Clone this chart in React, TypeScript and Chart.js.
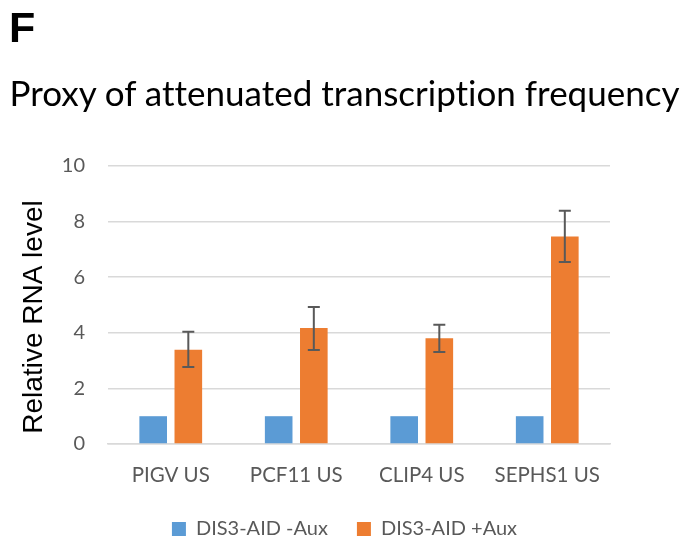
import React, { useEffect, useRef } from "react";
import { Chart, registerables } from "chart.js";

Chart.register(...registerables);

const categories = ["PIGV US", "PCF11 US", "CLIP4 US", "SEPHS1 US"];
const minusAux = [1, 1, 1, 1];
const plusAux = [3.39, 4.17, 3.8, 7.46];
const plusAuxErrLow = [2.77, 3.38, 3.31, 6.55];
const plusAuxErrHigh = [4.04, 4.93, 4.29, 8.39];
const yTicks = [0, 2, 4, 6, 8, 10];
const yTitle = "Relative RNA level";

const errorBarPlugin = {
  id: "errorBars",
  afterDatasetsDraw(chart: any) {
    const ctx = chart.ctx;
    const meta = chart.getDatasetMeta(1);
    const y = chart.scales.y;
    ctx.save();
    ctx.strokeStyle = "#595959";
    ctx.lineWidth = 2;
    meta.data.forEach((bar: any, i: number) => {
      const x = bar.x;
      const yl = y.getPixelForValue(plusAuxErrLow[i]);
      const yh = y.getPixelForValue(plusAuxErrHigh[i]);
      ctx.beginPath();
      ctx.moveTo(x, yl);
      ctx.lineTo(x, yh);
      ctx.moveTo(x - 6, yl);
      ctx.lineTo(x + 6, yl);
      ctx.moveTo(x - 6, yh);
      ctx.lineTo(x + 6, yh);
      ctx.stroke();
    });
    ctx.restore();
  },
};

const yTitlePlugin = {
  id: "yTitle",
  afterDraw(chart: any) {
    const ctx = chart.ctx;
    const a = chart.chartArea;
    ctx.save();
    ctx.translate(34, (a.top + a.bottom) / 2 + 12);
    ctx.rotate(-Math.PI / 2);
    ctx.font = '28px "Liberation Sans"';
    ctx.fillStyle = "#000";
    ctx.textAlign = "center";
    ctx.textBaseline = "middle";
    ctx.fillText(yTitle, 0, 0);
    ctx.restore();
  },
};

export default function App() {
  const ref = useRef<HTMLCanvasElement>(null);
  useEffect(() => {
    document.body.style.margin = "0";
    const chart = new Chart(ref.current!, {
      type: "bar",
      data: {
        labels: categories,
        datasets: [
          {
            label: "DIS3-AID -Aux",
            data: minusAux,
            backgroundColor: "#5B9BD5",
            categoryPercentage: 0.56,
            barPercentage: 0.786,
          },
          {
            label: "DIS3-AID +Aux",
            data: plusAux,
            backgroundColor: "#ED7D31",
            categoryPercentage: 0.56,
            barPercentage: 0.786,
          },
        ],
      },
      options: {
        animation: false,
        responsive: false,
        layout: { padding: { left: 0, right: 0, top: 166, bottom: -10 } },
        plugins: {
          title: { display: false },
          legend: {
            position: "bottom",
            labels: {
              color: "#595959",
              font: { family: "Lato", size: 20 },
              boxWidth: 14,
              boxHeight: 14,
              padding: 29,
            },
          },
          tooltip: { enabled: false },
        },
        scales: {
          x: {
            grid: { display: false, drawTicks: false },
            border: { color: "#d9d9d9", width: 1.5 },
            afterFit: (s: any) => {
              s.height = 46;
            },
            ticks: {
              color: "#595959",
              font: { family: "Lato", size: 20.5 },
              padding: 19,
            },
          },
          y: {
            min: 0,
            max: 10,
            afterBuildTicks: (s: any) => {
              s.ticks = yTicks.map((v) => ({ value: v }));
            },
            afterFit: (s: any) => {
              s.width = 108;
            },
            grid: { color: "#d9d9d9", lineWidth: 1.5, drawTicks: false },
            border: { display: false },
            ticks: {
              color: "#595959",
              font: { family: "Lato", size: 20 },
              padding: 23,
            },
            title: { display: false },
          },
          yRight: {
            type: "linear",
            position: "right",
            display: true,
            grid: { display: false, drawTicks: false },
            border: { display: false },
            ticks: { display: false },
            afterFit: (s: any) => {
              s.width = 79;
            },
          },
        },
      },
      plugins: [errorBarPlugin, yTitlePlugin],
    });
    return () => chart.destroy();
  }, []);
  return (
    <div style={{ position: "relative", width: 689, height: 539, background: "#fff", overflow: "hidden" }}>
      <canvas ref={ref} width={689} height={539} style={{ position: "absolute", left: 0, top: 0 }} />
      <div
        style={{
          position: "absolute",
          left: 9,
          top: 6,
          fontFamily: "Liberation Sans, Arial, sans-serif",
          fontWeight: "bold",
          fontSize: 43,
          color: "#000",
          lineHeight: 1,
        }}
      >
        F
      </div>
      <div
        style={{
          position: "absolute",
          left: 0,
          top: 71,
          width: 689,
          textAlign: "center",
          fontFamily: "Lato",
          fontVariantLigatures: "none",
          fontSize: 35,
          lineHeight: 1.2,
          color: "#000",
          whiteSpace: "nowrap",
        }}
      >
        Proxy of attenuated transcription frequency
      </div>
    </div>
  );
}
